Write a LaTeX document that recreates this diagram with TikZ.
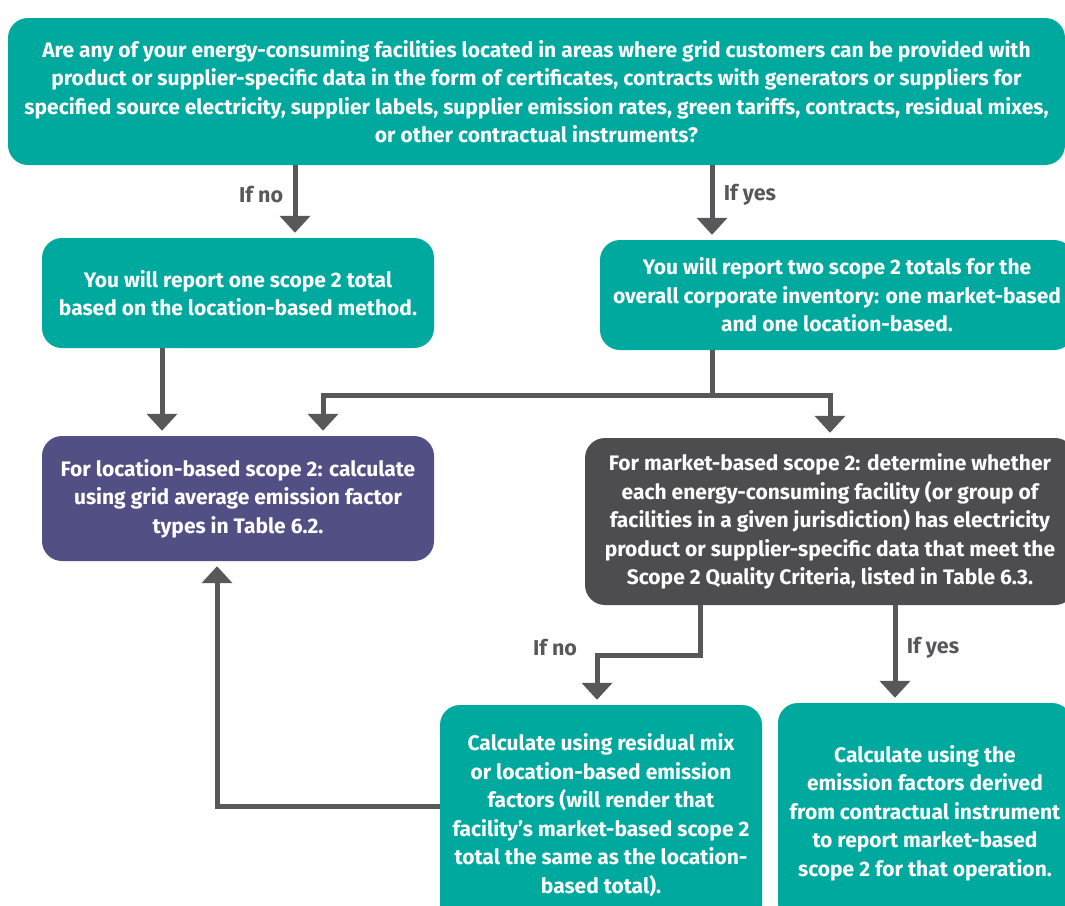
\documentclass[tikz,border=0pt]{standalone}
\usepackage{fontspec}
\setmainfont{Fira Sans}
\usetikzlibrary{arrows.meta,calc}
\definecolor{teal1}{RGB}{0,169,157}
\definecolor{purp}{RGB}{82,79,133}
\definecolor{dgray}{RGB}{77,77,79}
\definecolor{agray}{RGB}{88,88,90}
\tikzset{
  box/.style={rounded corners=20pt, inner sep=0pt, align=center, text=white,
    font=\fontsize{21}{28.5}\selectfont\bfseries},
  tealbox/.style={box, fill=teal1},
  arr/.style={draw=agray, line width=5pt,
    -{Triangle[width=30pt,length=17pt]}, shorten >=5pt},
  lbl/.style={text=agray, font=\fontsize{21.5}{24}\selectfont\bfseries}
}
\begin{document}
\begin{tikzpicture}[x=1pt,y=-1pt]
\useasboundingbox (0,0) rectangle (1065,905);
\clip (0,0) rectangle (1065,905);
% boxes
\node[tealbox, minimum width=1057pt, minimum height=147pt] (top) at (536.5,91.5)
 {Are any of your energy-consuming facilities located in areas where grid customers can be provided with\\
  product or supplier-specific data in the form of certificates, contracts with generators or suppliers for\\
  specified source electricity, supplier labels, supplier emission rates, green tariffs, contracts, residual mixes,\\
  or other contractual instruments?};
\node[tealbox, minimum width=392pt, minimum height=110pt] (nobox) at (238,293)
 {You will report one scope 2 total\\ based on the location-based method.};
\node[tealbox, minimum width=474pt, minimum height=110pt] (yesbox) at (837,295)
 {You will report two scope 2 totals for the\\ overall corporate inventory: one market-based\\ and one location-based.};
\node[box, fill=purp, minimum width=392pt, minimum height=125pt] (loc) at (238,498.5)
 {For location-based scope 2: calculate\\ using grid average emission factor\\ types in Table 6.2.};
\node[box, fill=dgray, minimum width=490pt, minimum height=167pt] (mkt) at (830,521.5)
 {For market-based scope 2: determine whether\\ each energy-consuming facility (or group of\\ facilities in a given jurisdiction) has electricity\\ product or supplier-specific data that meet the\\ Scope 2 Quality Criteria, listed in Table 6.3.};
\node[tealbox, minimum width=322pt, minimum height=220pt] (resid) at (601,815)
 {Calculate using residual mix\\ or location-based emission\\ factors (will render that\\ facility’s market-based scope 2\\ total the same as the location-\\ based total).};
\node[tealbox, minimum width=294pt, minimum height=220pt] (contr) at (925,813)
 {Calculate using the\\ emission factors derived\\ from contractual instrument\\ to report market-based\\ scope 2 for that operation.};
% helper coordinates
\coordinate (xno) at (295,0);
\coordinate (xyes) at (712,0);
\coordinate (xleft) at (162,0);
\coordinate (split) at (712,395);
\coordinate (sl) at (323,395);
\coordinate (sr) at (830,395);
\coordinate (bend1) at (700,655);
\coordinate (bend1b) at (597,655);
\coordinate (xmy) at (895,0);
\coordinate (back) at (217,806);
% connectors
\draw[arr] (top.south -| xno) -- (nobox.north -| xno) node[lbl, pos=0.4, left=6pt] {If no};
\draw[arr] (top.south -| xyes) -- (yesbox.north -| xyes) node[lbl, pos=0.4, right=6pt] {If yes};
\draw[arr] (nobox.south -| xleft) -- (loc.north -| xleft);
\draw[draw=agray, line width=5pt] (yesbox.south -| split) -- (split);
\draw[arr] (split) -- (sl) -- (loc.north -| sl);
\draw[arr] (split) -- (sr) -- (mkt.north -| sr);
\draw[arr] (mkt.south -| bend1) -- (bend1) -- (bend1b) -- (resid.north -| bend1b);
\node[lbl] (lno) at (555,648) {If no};
\draw[arr] (mkt.south -| xmy) -- (contr.north -| xmy);
\node[lbl] (lyes) at (933,648) {If yes};
\draw[arr] (resid.west |- back) -- (back) -- (loc.south -| back);
\end{tikzpicture}
\end{document}
